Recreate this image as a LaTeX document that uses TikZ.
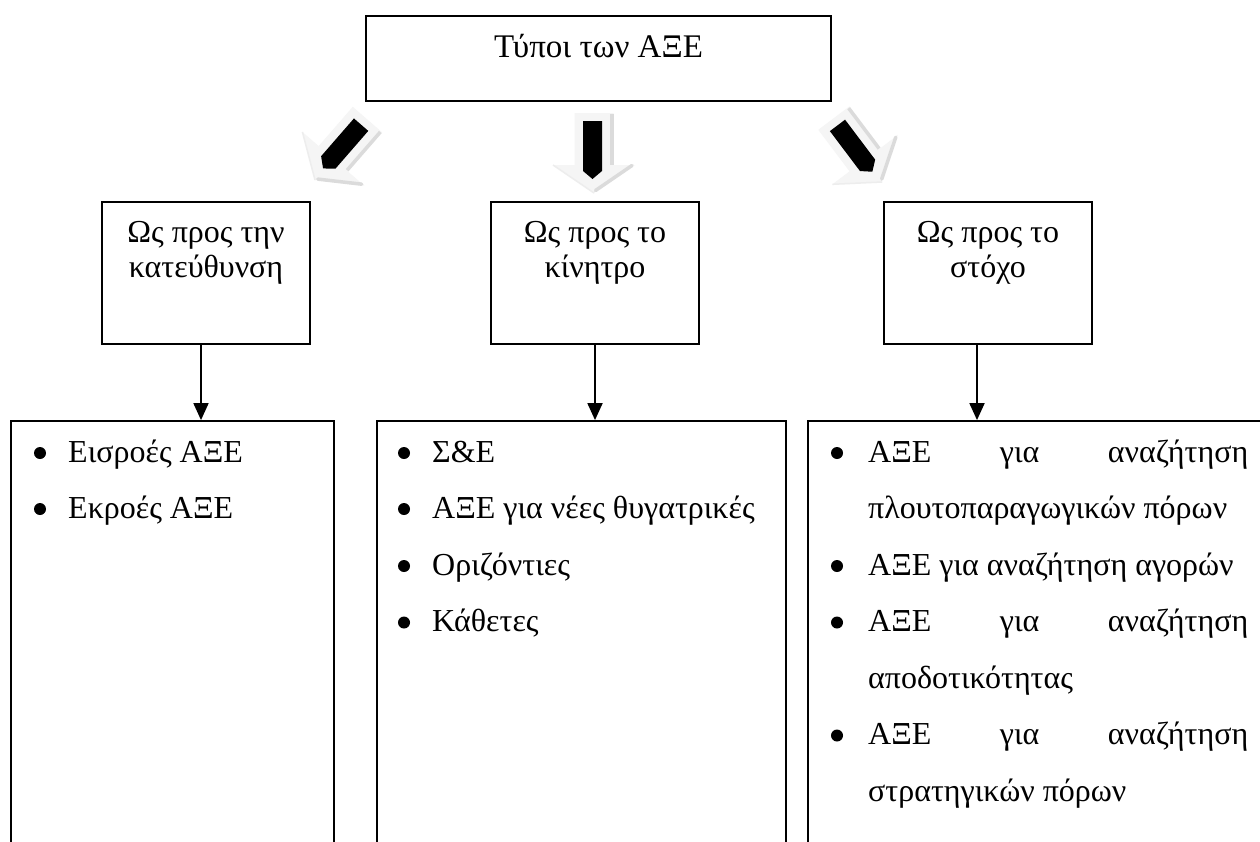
\documentclass[tikz,border=0pt]{standalone}
\usepackage{fontspec}
\setmainfont{Liberation Serif}
\usetikzlibrary{arrows.meta}
\newcommand\shadedarrow[4]{%
  \begin{scope}[shift={(#1,#2)},rotate=#3]
    \fill[gray!8] (0,0) -- (41,-28) -- (19.5,-28) -- (19.5,-80) -- (-19.5,-80) -- (-19.5,-28) -- (-41,-28) -- cycle;
    \draw[gray!14,line width=1.5pt,line join=round] (0,0) -- (-41,-28);
    \draw[gray!28,line width=3.5pt,line join=round] (17.8,-79) -- (17.8,-28.5);
    \draw[gray!28,line width=3.5pt,line cap=round] (1.5,-2.5) -- (38,-27.5);
    \fill[black] (-11,-72) -- (8,-72) -- (8,-22) -- (-1.5,-14) -- (-11,-22) -- cycle;
    \coordinate (#4) at (0,0);
  \end{scope}}
\begin{document}
\begin{tikzpicture}[x=1pt,y=-1pt,
  box/.style={draw,line width=1.8pt,rectangle,inner sep=0pt},
  conn/.style={line width=1.8pt,-{Triangle[length=17pt,width=15pt]}},
  txt/.style={inner sep=0pt,font=\fontsize{32}{38}\selectfont},
  ]
\useasboundingbox (0,0) rectangle (1260,841);
\clip (0,0) rectangle (1260,841);
\fill[white] (0,0) rectangle (1260,841);

% top box
\node[box,minimum width=465pt,minimum height=85pt] (top) at (598.5,58.5) {};
\node[txt,anchor=base,font=\fontsize{33}{38}\selectfont] (toptxt) at (598.5,57) {Τύποι των ΑΞΕ};

% shaded block arrows
\shadedarrow{315}{180}{-41}{g1}
\shadedarrow{594}{193}{0}{g2}
\shadedarrow{882}{182}{37}{g3}

% middle boxes
\node[box,minimum width=208pt,minimum height=142pt] (m1) at (206,273) {};
\node[txt,anchor=base] (m1a) at (206,242) {Ως προς την};
\node[txt,anchor=base] (m1b) at (206,277) {κατεύθυνση};
\node[box,minimum width=208pt,minimum height=142pt] (m2) at (595,273) {};
\node[txt,anchor=base] (m2a) at (595,242) {Ως προς το};
\node[txt,anchor=base] (m2b) at (595,277) {κίνητρο};
\node[box,minimum width=208pt,minimum height=142pt] (m3) at (988,273) {};
\node[txt,anchor=base] (m3a) at (988,242) {Ως προς το};
\node[txt,anchor=base] (m3b) at (988,277) {στόχο};

% bottom boxes (open below the picture edge)
\node[box,minimum width=323pt,minimum height=440pt] (b1) at (172.5,641) {};
\node[box,minimum width=409pt,minimum height=440pt] (b2) at (581.5,641) {};
\node[box,minimum width=482pt,minimum height=440pt] (b3) at (1049,641) {};

% connectors
\coordinate (c1) at (201,0);
\coordinate (c2) at (595,0);
\coordinate (c3) at (977,0);
\draw[conn] (m1.south -| c1) -- (b1.north -| c1);
\draw[conn] (m2.south -| c2) -- (b2.north -| c2);
\draw[conn] (m3.south -| c3) -- (b3.north -| c3);

% left list
\fill (40,453) circle (6);
\node[txt,anchor=base west] (l1) at (68,462) {Εισροές ΑΞΕ};
\fill (40,509) circle (6);
\node[txt,anchor=base west] (l2) at (68,518) {Εκροές ΑΞΕ};

% middle list
\fill (404,453) circle (6);
\node[txt,anchor=base west] (n1) at (432,462) {Σ\&Ε};
\fill (404,509) circle (6);
\node[txt,anchor=base west] (n2) at (432,518) {ΑΞΕ για νέες θυγατρικές};
\fill (404,566) circle (6);
\node[txt,anchor=base west] (n3) at (432,575) {Οριζόντιες};
\fill (404,622.5) circle (6);
\node[txt,anchor=base west] (n4) at (432,631.5) {Κάθετες};

% right list
\fill (837,453) circle (6);
\node[txt,anchor=base west] (r1) at (868,462) {\hbox to 380pt{ΑΞΕ\hfill για\hfill αναζήτηση}};
\node[txt,anchor=base west] (r2) at (868,518.5) {πλουτοπαραγωγικών πόρων};
\fill (837,566) circle (6);
\node[txt,anchor=base west] (r3) at (868,575) {ΑΞΕ για αναζήτηση αγορών};
\fill (837,622.5) circle (6);
\node[txt,anchor=base west] (r4) at (868,631.5) {\hbox to 380pt{ΑΞΕ\hfill για\hfill αναζήτηση}};
\node[txt,anchor=base west] (r5) at (868,688) {αποδοτικότητας};
\fill (837,735.5) circle (6);
\node[txt,anchor=base west] (r6) at (868,744.5) {\hbox to 380pt{ΑΞΕ\hfill για\hfill αναζήτηση}};
\node[txt,anchor=base west] (r7) at (868,801) {στρατηγικών πόρων};
\end{tikzpicture}
\end{document}
